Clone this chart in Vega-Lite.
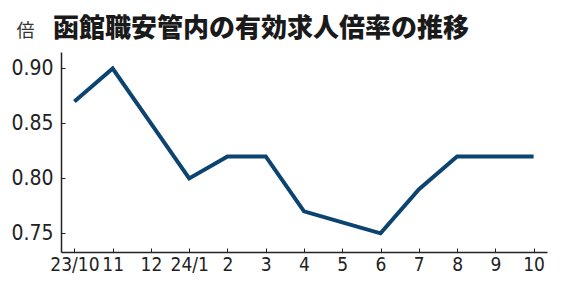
{
  "$schema": "https://vega.github.io/schema/vega-lite/v6.json",
  "width": 486,
  "height": 200,
  "autosize": "none",
  "padding": {"left": 61, "top": 52, "right": 28, "bottom": 41},
  "background": "white",
  "title": {
    "text": "函館職安管内の有効求人倍率の推移",
    "font": "Noto Sans CJK JP",
    "fontSize": 26,
    "fontWeight": 900,
    "color": "#1a1a1a",
    "anchor": "start",
    "frame": "group",
    "baseline": "bottom",
    "dx": -8,
    "offset": -46
  },
  "data": {
    "values": [
      {"month": "23/10", "ratio": 0.87},
      {"month": "11", "ratio": 0.90},
      {"month": "12", "ratio": 0.85},
      {"month": "24/1", "ratio": 0.80},
      {"month": "2", "ratio": 0.82},
      {"month": "3", "ratio": 0.82},
      {"month": "4", "ratio": 0.77},
      {"month": "5", "ratio": 0.76},
      {"month": "6", "ratio": 0.75},
      {"month": "7", "ratio": 0.79},
      {"month": "8", "ratio": 0.82},
      {"month": "9", "ratio": 0.82},
      {"month": "10", "ratio": 0.82}
    ]
  },
  "mark": {"type": "line", "color": "#0b4470", "strokeWidth": 4, "strokeJoin": "miter"},
  "encoding": {
    "x": {
      "field": "month",
      "type": "ordinal",
      "sort": null,
      "scale": {"type": "point", "padding": 0.35},
      "axis": {
        "title": null,
        "labelAngle": 0,
        "labelFont": "DejaVu Sans Condensed, Liberation Sans Narrow, Roboto",
        "labelFontSize": 19,
        "labelColor": "#222",
        "tickSize": -4,
        "labelPadding": 7,
        "tickColor": "#222",
        "domainColor": "#222",
        "domainWidth": 1.5,
        "grid": false
      }
    },
    "y": {
      "field": "ratio",
      "type": "quantitative",
      "scale": {"domain": [0.733, 0.915], "nice": false, "zero": false},
      "axis": {
        "values": [0.75, 0.8, 0.85, 0.9],
        "format": ".2f",
        "title": "倍",
        "titleAngle": 0,
        "titleFont": "Noto Sans CJK JP",
        "titleFontSize": 18,
        "titleFontWeight": "normal",
        "titleColor": "#333",
        "titleAlign": "left",
        "titleBaseline": "alphabetic",
        "titleX": -45,
        "titleY": -16,
        "labelFont": "DejaVu Sans Condensed, Liberation Sans Narrow, Roboto",
        "labelFontSize": 21,
        "labelColor": "#222",
        "tickSize": -4,
        "labelPadding": 12,
        "tickColor": "#222",
        "domainColor": "#222",
        "domainWidth": 1.5,
        "grid": false
      }
    }
  },
  "config": {"view": {"stroke": null}}
}
